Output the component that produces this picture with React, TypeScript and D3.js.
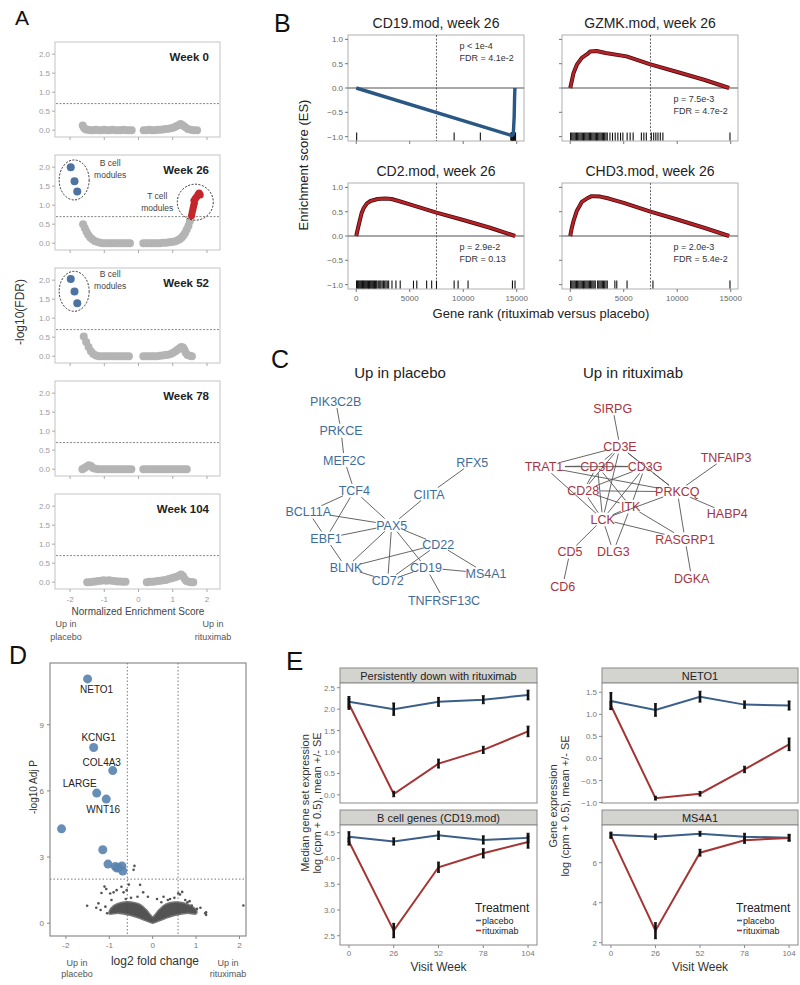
import React from "react";
import * as d3 from "d3";

const FONT = "'Liberation Sans', Arial, Helvetica, sans-serif";

// ================= Panel A data =================
const A_WEEKS = ["Week 0", "Week 26", "Week 52", "Week 78", "Week 104"];
const A_FDR_CUTOFF = 0.2;
const A_Y_TICKS = [0, 0.5, 1, 1.5, 2];
const A_X_TICKS = [-2, -1, 0, 1, 2];

const A_GRAY_W0 = [
  [-1.63, 0.12], [-1.59, 0.06], [-1.54, 0.02], [-1.47, 0.01], [-1.4, 0], [-1.32, 0], [-1.24, 0.01], [-1.16, 0], [-1.08, 0], [-1.0, 0.01],
  [-0.92, 0], [-0.84, 0], [-0.76, 0.01], [-0.68, 0], [-0.6, 0], [-0.52, 0], [-0.44, 0.01], [-0.36, 0], [-0.28, 0], [-0.2, 0],
  [0.15, 0], [0.23, 0], [0.31, 0.01], [0.39, 0], [0.47, 0], [0.55, 0.01], [0.63, 0.01], [0.71, 0.02], [0.79, 0.03], [0.87, 0.04],
  [0.95, 0.05], [1.03, 0.07], [1.1, 0.1], [1.17, 0.13], [1.23, 0.16], [1.29, 0.13], [1.36, 0.08], [1.44, 0.03], [1.53, 0.01], [1.62, 0], [1.71, 0],
];
const A_GRAY_W26 = [
  [-1.62, 0.5], [-1.57, 0.4], [-1.52, 0.3], [-1.47, 0.22], [-1.41, 0.15], [-1.35, 0.1], [-1.28, 0.06], [-1.2, 0.03], [-1.12, 0.01], [-1.04, 0],
  [-0.96, 0], [-0.88, 0], [-0.8, 0], [-0.72, 0], [-0.64, 0], [-0.56, 0], [-0.48, 0], [-0.4, 0], [-0.32, 0], [-0.25, 0],
  [0.14, 0], [0.22, 0], [0.3, 0], [0.38, 0], [0.46, 0], [0.54, 0], [0.62, 0], [0.7, 0.01], [0.78, 0.01], [0.86, 0.02],
  [0.94, 0.03], [1.02, 0.04], [1.1, 0.06], [1.16, 0.08], [1.21, 0.11], [1.26, 0.15], [1.31, 0.2], [1.36, 0.27], [1.41, 0.36], [1.46, 0.46], [1.5, 0.58],
];
const A_BLUE_W26 = [[-1.98, 2.0], [-1.87, 1.63], [-1.79, 1.36]];
const A_RED_W26 = [
  [1.55, 0.73], [1.57, 0.82], [1.59, 0.9], [1.61, 0.98], [1.63, 1.05], [1.62, 1.12], [1.66, 1.17], [1.7, 1.22], [1.74, 1.28], [1.77, 1.32], [1.8, 1.27],
];
const A_GRAY_W52 = [
  [-1.6, 0.52], [-1.53, 0.37], [-1.46, 0.24], [-1.39, 0.13], [-1.32, 0.06], [-1.24, 0.02], [-1.16, 0], [-1.08, 0], [-1.0, 0], [-0.92, 0],
  [-0.84, 0], [-0.76, 0], [-0.68, 0], [-0.6, 0], [-0.52, 0], [-0.44, 0], [-0.36, 0], [-0.28, 0],
  [0.14, 0], [0.22, 0], [0.3, 0], [0.38, 0], [0.46, 0], [0.54, 0], [0.62, 0.01], [0.7, 0.02], [0.78, 0.03], [0.86, 0.04],
  [0.94, 0.06], [1.01, 0.09], [1.08, 0.13], [1.14, 0.17], [1.2, 0.21], [1.25, 0.24], [1.3, 0.23], [1.34, 0.17], [1.38, 0.09], [1.43, 0.03], [1.5, 0.01], [1.56, 0],
];
const A_BLUE_W52 = [[-1.98, 2.03], [-1.87, 1.7], [-1.79, 1.39]];
const A_GRAY_W78 = [
  [-1.64, 0], [-1.58, 0.03], [-1.51, 0.07], [-1.45, 0.1], [-1.39, 0.08], [-1.33, 0.03], [-1.26, 0.01], [-1.18, 0], [-1.1, 0], [-1.02, 0],
  [-0.94, 0], [-0.86, 0], [-0.78, 0], [-0.7, 0], [-0.62, 0], [-0.54, 0], [-0.46, 0], [-0.38, 0], [-0.3, 0], [-0.21, 0],
  [0.14, 0], [0.22, 0], [0.3, 0], [0.38, 0], [0.46, 0], [0.54, 0], [0.62, 0], [0.7, 0], [0.78, 0], [0.86, 0],
  [0.94, 0], [1.02, 0], [1.1, 0], [1.18, 0], [1.26, 0], [1.34, 0], [1.41, 0],
];
const A_GRAY_W104 = [
  [-1.5, 0], [-1.42, 0], [-1.34, 0.01], [-1.26, 0.02], [-1.18, 0.03], [-1.1, 0.04], [-1.02, 0.05], [-0.94, 0.04], [-0.86, 0.05], [-0.78, 0.04],
  [-0.7, 0.03], [-0.62, 0.02], [-0.54, 0.02], [-0.46, 0.01], [-0.38, 0.01],
  [0.24, 0], [0.32, 0.01], [0.4, 0.01], [0.48, 0.02], [0.56, 0.03], [0.64, 0.04], [0.72, 0.05], [0.8, 0.06], [0.88, 0.08], [0.96, 0.1],
  [1.04, 0.12], [1.11, 0.14], [1.18, 0.17], [1.24, 0.2], [1.3, 0.16], [1.35, 0.08], [1.4, 0.03], [1.47, 0.01], [1.54, 0], [1.6, 0],
];
const A_GRAY = [A_GRAY_W0, A_GRAY_W26, A_GRAY_W52, A_GRAY_W78, A_GRAY_W104];
const A_BLUE = [[], A_BLUE_W26, A_BLUE_W52, [], []];
const A_RED = [[], A_RED_W26, [], [], []];

// ================= Panel B data =================
const B_TITLES = ["CD19.mod, week 26", "GZMK.mod, week 26", "CD2.mod, week 26", "CHD3.mod, week 26"];
const B_P = ["p < 1e-4", "p = 7.5e-3", "p = 2.9e-2", "p = 2.0e-3"];
const B_FDR = ["FDR = 4.1e-2", "FDR = 4.7e-2", "FDR = 0.13", "FDR = 5.4e-2"];
const B_MIDRANK = 7500;
const B_Y_TICKS = [-1, -0.5, 0, 0.5, 1];
const B_Y_TICK_LABELS = ["\u22121.0", "\u22120.5", "0.0", "0.5", "1.0"];
const B_X_TICKS = [0, 5000, 10000, 15000];
const B_ES_CD19 = [[0, 0], [14550, -0.98], [14680, -0.95], [14760, -0.6], [14800, -0.2], [14830, 0]];
const B_ES_GZMK = [[0, 0], [150, 0.15], [310, 0.31], [620, 0.48], [1080, 0.62], [1550, 0.69], [1860, 0.75], [2470, 0.76], [3300, 0.72], [5260, 0.65], [7420, 0.49], [10000, 0.33], [12500, 0.17], [14850, 0]];
const B_ES_CD2 = [[0, 0], [150, 0.15], [320, 0.31], [500, 0.47], [710, 0.58], [1000, 0.67], [1330, 0.72], [2000, 0.76], [2720, 0.77], [3300, 0.76], [3960, 0.72], [5000, 0.65], [7500, 0.48], [10000, 0.33], [12500, 0.17], [14850, 0]];
const B_ES_CHD3 = [[0, 0], [150, 0.17], [310, 0.31], [620, 0.52], [1080, 0.7], [1550, 0.77], [2000, 0.82], [2800, 0.81], [3600, 0.77], [5000, 0.68], [7500, 0.5], [10000, 0.34], [12500, 0.17], [14850, 0]];
const B_RUG_CD19 = [40, 9150, 11600, 14450, 14490, 14530, 14570, 14610, 14650, 14690, 14730, 14770, 14810, 14850, 14890];
const B_RUG_GZMK = [
  30, 140, 250, 360, 470, 580, 690, 800, 910, 1020, 1130, 1240, 1350, 1460, 1570, 1680, 1790, 1900, 2010, 2120, 2230, 2340, 2450, 2560, 2670,
  2780, 2890, 3000, 3110, 3220, 3340, 3460, 3710, 3950, 4200, 4450, 4700, 4920, 5320, 5600, 5880, 6650, 6880, 7110, 7580, 7800, 8000, 8200, 8420, 8660, 14930,
];
const B_RUG_CD2 = [
  30, 110, 190, 270, 350, 430, 510, 590, 670, 750, 830, 910, 990, 1070, 1150, 1230, 1310, 1390, 1470, 1550, 1630, 1710, 1790, 1870, 1950,
  2100, 2200, 2300, 2420, 2540, 2660, 2780, 2900, 3030, 3340, 3710, 4110, 5350, 5660, 6580, 7050, 7500, 9150, 9520, 10450, 14600, 14840,
];
const B_RUG_CHD3 = [
  30, 140, 250, 360, 470, 580, 690, 800, 910, 1020, 1130, 1240, 1350, 1460, 1570, 1680, 1790, 1900, 2010, 2120, 2230, 2340, 2560, 2670,
  2780, 2890, 3000, 3110, 3220, 3340, 3460, 4170, 4350, 5310, 7730, 14930,
];
const B_CURVES = [B_ES_CD19, B_ES_GZMK, B_ES_CD2, B_ES_CHD3];
const B_RUGS = [B_RUG_CD19, B_RUG_GZMK, B_RUG_CD2, B_RUG_CHD3];
const B_DIRECTION = ["placebo", "rituximab", "rituximab", "rituximab"];

// ================= Panel C data =================
const C_PLACEBO_GENES = ["PIK3C2B", "PRKCE", "MEF2C", "RFX5", "TCF4", "CIITA", "BCL11A", "PAX5", "EBF1", "CD22", "BLNK", "CD19", "MS4A1", "CD72", "TNFRSF13C"];
const C_PLACEBO_EDGES = [
  ["PIK3C2B", "PRKCE"], ["PRKCE", "MEF2C"], ["MEF2C", "TCF4"], ["RFX5", "CIITA"], ["CIITA", "PAX5"], ["TCF4", "PAX5"], ["TCF4", "BCL11A"],
  ["TCF4", "EBF1"], ["BCL11A", "PAX5"], ["BCL11A", "EBF1"], ["EBF1", "PAX5"], ["EBF1", "BLNK"], ["PAX5", "BLNK"], ["PAX5", "CD72"],
  ["PAX5", "CD19"], ["PAX5", "CD22"], ["BLNK", "CD22"], ["CD72", "CD22"], ["CD22", "MS4A1"], ["CD19", "MS4A1"], ["CD19", "TNFRSF13C"],
  ["CD19", "CD72"], ["BLNK", "CD72"],
];
const C_RITUX_GENES = ["SIRPG", "CD3E", "TNFAIP3", "TRAT1", "CD3D", "CD3G", "CD28", "PRKCQ", "ITK", "HABP4", "LCK", "RASGRP1", "CD5", "DLG3", "DGKA", "CD6"];
const C_RITUX_EDGES = [
  ["SIRPG", "CD3E"], ["CD3E", "TRAT1"], ["CD3E", "CD3D"], ["CD3E", "CD3G"], ["CD3E", "PRKCQ"], ["CD3E", "LCK"], ["CD3E", "CD28"],
  ["TRAT1", "CD3D"], ["TRAT1", "CD3G"], ["TRAT1", "LCK"], ["TRAT1", "PRKCQ"], ["CD3D", "CD3G"], ["CD3D", "LCK"], ["CD3D", "CD28"],
  ["CD3D", "ITK"], ["CD3G", "LCK"], ["CD3G", "CD28"], ["CD3G", "PRKCQ"], ["CD3G", "ITK"], ["CD28", "PRKCQ"], ["CD28", "LCK"],
  ["CD28", "ITK"], ["PRKCQ", "LCK"], ["PRKCQ", "TNFAIP3"], ["PRKCQ", "HABP4"], ["PRKCQ", "RASGRP1"], ["ITK", "LCK"], ["ITK", "RASGRP1"],
  ["ITK", "DLG3"], ["LCK", "DLG3"], ["LCK", "CD5"], ["LCK", "RASGRP1"], ["CD5", "CD6"], ["RASGRP1", "DGKA"],
];

// ================= Panel D data =================
const D_FC_CUTOFF = 1.5;
const D_P_CUTOFF = 0.01;
const D_Y_TICKS = [0, 3, 6, 9];
const D_X_TICKS = [-2, -1, 0, 1, 2];
const D_SIG_FC = [-1.5, -1.36, -0.92, -1.29, -1.07, -2.1, -1.15, -1.03, -0.86, -0.79, -0.71, -0.69, -0.82];
const D_SIG_P = [11.08, 7.97, 6.92, 5.9, 5.63, 4.28, 3.33, 2.68, 2.57, 2.52, 2.6, 2.37, 2.5];
const D_LABELS = ["NETO1", "KCNG1", "COL4A3", "LARGE", "WNT16"];
const D_BULK_OUTLINE = [
  [-1.0, 0.55], [-0.9, 0.8], [-0.7, 0.95], [-0.5, 0.96], [-0.3, 0.86], [-0.15, 0.62], [-0.05, 0.38], [0, 0.28], [0.05, 0.38], [0.15, 0.62],
  [0.3, 0.86], [0.5, 0.96], [0.7, 0.93], [0.9, 0.78], [1.02, 0.55], [1.0, 0.42], [0.8, 0.45], [0.5, 0.35], [0.3, 0.22], [0.12, 0.08],
  [0, 0], [-0.12, 0.08], [-0.3, 0.22], [-0.5, 0.35], [-0.8, 0.45], [-1.0, 0.42],
];
const D_NS_FC = [
  -1.11, -1.07, -1.18, -0.98, -0.9, -0.83, -0.72, -0.67, -0.6, -0.55, -0.44, -0.42, -0.29, -0.22, -0.11, 0.1, 0.25, 0.4, 0.5, 0.59,
  0.63, 0.68, 1.02, 0.8, 0.9, 0.94, 1.23, 1.23, 1.21, -1.51, -1.25, -1.2, -1.05, -1.09, 2.09, -0.95, -0.62, 0.35, 0.75, -0.35,
  1.1, -1.3, 0.2, -0.5, 0.85,
];
const D_NS_P = [
  1.66, 1.55, 1.37, 1.35, 1.4, 1.5, 1.65, 1.4, 1.5, 1.75, 2.42, 2.6, 1.74, 1.4, 1.2, 1.1, 1.2, 1.1, 1.15, 1.36,
  1.3, 1.42, 0.65, 0.95, 0.8, 0.6, 0.5, 0.38, 0.45, 0.79, 0.9, 0.6, 0.45, 0.75, 0.8, 1.05, 1.1, 1.05, 1.05, 1.2,
  0.7, 0.7, 0.95, 1.15, 1.0,
];

// ================= Panel E data =================
const E_WEEKS = [0, 26, 52, 78, 104];
const E_TITLES = ["Persistently down with rituximab", "B cell genes (CD19.mod)", "NETO1", "MS4A1"];
const E_PLACEBO = [
  [2.17, 2.0, 2.17, 2.22, 2.33],
  [4.42, 4.33, 4.45, 4.36, 4.4],
  [1.3, 1.1, 1.4, 1.22, 1.2],
  [7.4, 7.3, 7.45, 7.3, 7.25],
];
const E_PLACEBO_SE = [
  [0.1, 0.12, 0.08, 0.07, 0.09],
  [0.08, 0.05, 0.06, 0.06, 0.07],
  [0.17, 0.12, 0.1, 0.06, 0.08],
  [0.08, 0.08, 0.07, 0.12, 0.12],
];
const E_RITUX = [
  [2.12, 0.02, 0.73, 1.05, 1.48],
  [4.33, 2.6, 3.83, 4.1, 4.32],
  [1.2, -0.9, -0.8, -0.25, 0.32],
  [7.35, 2.6, 6.5, 7.12, 7.24],
];
const E_RITUX_SE = [
  [0.1, 0.04, 0.08, 0.06, 0.1],
  [0.05, 0.12, 0.08, 0.07, 0.1],
  [0.06, 0.02, 0.03, 0.05, 0.12],
  [0.08, 0.35, 0.12, 0.1, 0.1],
];
const E_Y_TICKS = [
  [0, 0.5, 1, 1.5, 2, 2.5],
  [2.5, 3, 3.5, 4, 4.5],
  [-1, -0.5, 0, 0.5, 1, 1.5],
  [2, 4, 6],
];
const E_Y_DOMAINS = [
  [-0.19, 2.61],
  [2.32, 4.65],
  [-1.01, 1.71],
  [1.885, 7.885],
];
const E_GROUPS = ["placebo", "rituximab"];

// ================= colours =================
const GRAY_PT = "#b4b4b4";
const BLUE_PT = "#4e73a0";
const RED_PT = "#c3262b";
const BLUE_LINE = "#2a5784";
const RED_LINE = "#b8232a";
const C_BLUE = "#3f6d99";
const C_RED = "#a6343f";
const E_BLUE = "#3b5f88";
const E_RED = "#a53434";

// ============================================================
function PanelA() {
  const x = d3.scaleLinear().domain([-2.44, 2.38]).range([55, 220]);
  const thr = -Math.log10(A_FDR_CUTOFF);
  const fmt = d3.format(".1f");
  return (
    <g>
      <text x={15} y={25} fontSize={21} fill="#111">A</text>
      {A_WEEKS.map((wk, i) => {
        const top = 42 + i * 113;
        const bottom = top + 95;
        const y = d3.scaleLinear().domain([-0.18, 2.32]).range([bottom, top]);
        const blue = A_BLUE[i];
        const red = A_RED[i];
        const bx = blue.length ? x(d3.mean(blue, (d) => d[0])) : 0;
        const by = blue.length ? y(d3.mean(blue, (d) => d[1])) : 0;
        const rx = red.length ? x(d3.mean(red, (d) => d[0])) : 0;
        const ry = red.length ? y(d3.mean(red, (d) => d[1])) : 0;
        return (
          <g key={wk}>
            <rect x={55} y={top} width={165} height={95} fill="#fff" stroke="#c4c4c4" strokeWidth={1} />
            {A_Y_TICKS.map((t) => (
              <g key={t}>
                <line x1={52} x2={55} y1={y(t)} y2={y(t)} stroke="#aaa" />
                <text x={50} y={y(t) + 3} textAnchor="end" fontSize={8} fill="#9a9a9a">{fmt(t)}</text>
              </g>
            ))}
            {A_X_TICKS.map((t) => (
              <line key={t} x1={x(t)} x2={x(t)} y1={bottom} y2={bottom + 3} stroke="#aaa" />
            ))}
            <line x1={56} x2={219} y1={y(thr)} y2={y(thr)} stroke="#666" strokeDasharray="2,1.5" strokeWidth={0.8} />
            {A_GRAY[i].map((d, j) => (
              <circle key={j} cx={x(d[0])} cy={y(d[1])} r={4} fill={GRAY_PT} />
            ))}
            {blue.map((d, j) => (
              <circle key={"b" + j} cx={x(d[0])} cy={y(d[1])} r={4} fill={BLUE_PT} />
            ))}
            {red.map((d, j) => (
              <circle key={"r" + j} cx={x(d[0])} cy={y(d[1])} r={3.6} fill={RED_PT} />
            ))}
            {blue.length > 0 && (
              <g>
                <ellipse cx={bx} cy={by} rx={15} ry={20} fill="none" stroke="#333" strokeDasharray="2,1.5" strokeWidth={1} />
                <text x={bx + 36} y={by - 14} fontSize={8.5} fill="#444" textAnchor="middle">B cell</text>
                <text x={bx + 36} y={by - 2} fontSize={8.5} fill="#444" textAnchor="middle">modules</text>
              </g>
            )}
            {red.length > 0 && (
              <g>
                <ellipse cx={rx} cy={ry} rx={18} ry={18} fill="none" stroke="#333" strokeDasharray="2,1.5" strokeWidth={1} />
                <text x={rx - 38} y={ry - 3} fontSize={8.5} fill="#444" textAnchor="middle">T cell</text>
                <text x={rx - 38} y={ry + 9} fontSize={8.5} fill="#444" textAnchor="middle">modules</text>
              </g>
            )}
            <text x={209} y={top + 19} textAnchor="end" fontSize={11.5} fontWeight="bold" fill="#222">{wk}</text>
            {i === A_WEEKS.length - 1 &&
              A_X_TICKS.map((t) => (
                <text key={"l" + t} x={x(t)} y={bottom + 13} textAnchor="middle" fontSize={8} fill="#9a9a9a">{t}</text>
              ))}
          </g>
        );
      })}
      <text x={138} y={615} textAnchor="middle" fontSize={10} fill="#444">Normalized Enrichment Score</text>
      <text x={66} y={627} textAnchor="middle" fontSize={9} fill="#555">Up in</text>
      <text x={66} y={640} textAnchor="middle" fontSize={9} fill="#555">placebo</text>
      <text x={213} y={627} textAnchor="middle" fontSize={9} fill="#555">Up in</text>
      <text x={213} y={640} textAnchor="middle" fontSize={9} fill="#555">rituximab</text>
      <text transform="translate(24,312) rotate(-90)" textAnchor="middle" fontSize={12} fill="#333">-log10(FDR)</text>
    </g>
  );
}

// ============================================================
function PanelB() {
  const X0 = [348, 562, 348, 562];
  const Y0 = [35, 35, 183, 183];
  const W = 176;
  const H = 106;
  return (
    <g>
      <text x={274} y={32} fontSize={25} fill="#111">B</text>
      {B_TITLES.map((title, i) => {
        const x = d3.scaleLinear().domain([-770, 15680]).range([X0[i], X0[i] + W]);
        const y = d3.scaleLinear().domain([-1.09, 1.09]).range([Y0[i] + H, Y0[i]]);
        const line = d3.line().x((d) => x(d[0])).y((d) => y(d[1]));
        const blue = B_DIRECTION[i] === "placebo";
        const leftCol = i % 2 === 0;
        const bottomRow = i >= 2;
        const tY1 = blue ? y(0.86) : y(-0.22);
        return (
          <g key={title}>
            <text x={X0[i] + W / 2} y={Y0[i] - 7} textAnchor="middle" fontSize={14} fill="#222">{title}</text>
            <rect x={X0[i]} y={Y0[i]} width={W} height={H} fill="#fff" stroke="#b0b0b0" />
            {B_Y_TICKS.map((t, k) => (
              <g key={t}>
                <line x1={X0[i] - 3} x2={X0[i]} y1={y(t)} y2={y(t)} stroke="#777" />
                {leftCol && (
                  <text x={X0[i] - 5} y={y(t) + 3} textAnchor="end" fontSize={8} fill="#666">{B_Y_TICK_LABELS[k]}</text>
                )}
              </g>
            ))}
            {B_X_TICKS.map((t) => (
              <g key={t}>
                <line x1={x(t)} x2={x(t)} y1={Y0[i] + H} y2={Y0[i] + H + 3} stroke="#777" />
                {bottomRow && (
                  <text x={x(t)} y={Y0[i] + H + 12} textAnchor="middle" fontSize={8} fill="#666">{t}</text>
                )}
              </g>
            ))}
            <line x1={X0[i]} x2={X0[i] + W} y1={y(0)} y2={y(0)} stroke="#8a8a8a" strokeWidth={1.3} />
            <line x1={x(B_MIDRANK)} x2={x(B_MIDRANK)} y1={Y0[i]} y2={Y0[i] + H} stroke="#555" strokeDasharray="2,1.5" strokeWidth={0.9} />
            {B_RUGS[i].map((r, k) => (
              <line key={k} x1={x(r)} x2={x(r)} y1={y(-1) - 4} y2={y(-1) + 4} stroke="#111" strokeWidth={1.1} />
            ))}
            {blue ? (
              <path d={line(B_CURVES[i])} fill="none" stroke={BLUE_LINE} strokeWidth={3.4} strokeLinejoin="round" />
            ) : (
              <g>
                <path d={line(B_CURVES[i])} fill="none" stroke="#4a0d0d" strokeWidth={4} strokeLinejoin="round" />
                <path d={line(B_CURVES[i])} fill="none" stroke={RED_LINE} strokeWidth={2.4} strokeLinejoin="round" />
              </g>
            )}
            <text x={x(9650)} y={tY1 + 3} fontSize={9} fill="#333">{B_P[i]}</text>
            <text x={x(9650)} y={tY1 + 15} fontSize={9} fill="#333">{B_FDR[i]}</text>
          </g>
        );
      })}
      <text transform="translate(308,165) rotate(-90)" textAnchor="middle" fontSize={13} fill="#222">Enrichment score (ES)</text>
      <text x={541} y={318} textAnchor="middle" fontSize={13} fill="#222">Gene rank (rituximab versus placebo)</text>
    </g>
  );
}

// ============================================================
const C_LAYOUT = {
  PIK3C2B: [335.7, 401], PRKCE: [341, 430.7], MEF2C: [344.3, 460], RFX5: [472.3, 462.7], TCF4: [354.3, 490.7],
  CIITA: [429, 494], BCL11A: [308.3, 511.7], PAX5: [391.7, 525], EBF1: [326, 538.3], CD22: [438.3, 544.3],
  BLNK: [346, 567.7], CD19: [426, 567.7], MS4A1: [486, 573.3], CD72: [387.7, 580.7], TNFRSF13C: [444, 600],
  SIRPG: [612.7, 408.3], CD3E: [620, 446.7], TNFAIP3: [726, 457.3], TRAT1: [544, 466.7], CD3D: [597.3, 466],
  CD3G: [645, 466.7], CD28: [583.3, 490.7], PRKCQ: [677.3, 491.7], ITK: [630.7, 506.7], HABP4: [727.3, 513.3],
  LCK: [602.7, 519.3], RASGRP1: [685, 539.3], CD5: [570, 551.7], DLG3: [613.3, 551.7], DGKA: [691.7, 578.3], CD6: [562.7, 586],
};

function Network({ genes, edges, color, fs }) {
  const halfW = (g) => (g.length * fs * 0.64) / 2 + 1;
  const segs = edges.map(([a, b]) => {
    const [x1, y1] = C_LAYOUT[a];
    const [x2, y2] = C_LAYOUT[b];
    const dx = x2 - x1, dy = y2 - y1;
    const ta = 1 / Math.sqrt((dx / halfW(a)) ** 2 + (dy / 7) ** 2);
    const tb = 1 / Math.sqrt((dx / halfW(b)) ** 2 + (dy / 7) ** 2);
    if (ta + tb >= 0.98) return null;
    return [x1 + dx * ta, y1 + dy * ta, x2 - dx * tb, y2 - dy * tb];
  });
  return (
    <g>
      {segs.map((s, i) =>
        s ? <line key={i} x1={s[0]} y1={s[1]} x2={s[2]} y2={s[3]} stroke="#555" strokeWidth={0.9} /> : null
      )}
      {genes.map((g) => (
        <text key={g} x={C_LAYOUT[g][0]} y={C_LAYOUT[g][1] + fs * 0.36} textAnchor="middle" fontSize={fs} fill={color}>{g}</text>
      ))}
    </g>
  );
}

function PanelC() {
  return (
    <g>
      <text x={271} y={368} fontSize={25} fill="#111">C</text>
      <text x={400} y={378} textAnchor="middle" fontSize={15} fill="#222">Up in placebo</text>
      <text x={633} y={378} textAnchor="middle" fontSize={15} fill="#222">Up in rituximab</text>
      <Network genes={C_PLACEBO_GENES} edges={C_PLACEBO_EDGES} color={C_BLUE} fs={12.5} />
      <Network genes={C_RITUX_GENES} edges={C_RITUX_EDGES} color={C_RED} fs={12.5} />
    </g>
  );
}

// ============================================================
function PanelD() {
  const L = 50, R = 246, T = 663, B = 936;
  const x = d3.scaleLinear().domain([-2.366, 2.15]).range([L, R]);
  const y = d3.scaleLinear().domain([-0.58, 11.8]).range([B, T]);
  const fcLine = Math.log2(D_FC_CUTOFF);
  const pLine = -Math.log10(D_P_CUTOFF);
  const area = d3.line().x((d) => x(d[0])).y((d) => y(d[1])).curve(d3.curveCatmullRomClosed);
  const labelOffsets = [[9, 14], [5, -6], [-11, -5], [-17, -6], [-3, 14]];
  return (
    <g>
      <text x={9} y={664} fontSize={25} fill="#111">D</text>
      <rect x={L} y={T} width={R - L} height={B - T} fill="#fff" stroke="#8c8c8c" strokeWidth={1.2} />
      {D_Y_TICKS.map((t) => (
        <g key={t}>
          <line x1={L - 3} x2={L} y1={y(t)} y2={y(t)} stroke="#888" />
          <text x={44} y={y(t) + 3} textAnchor="end" fontSize={8} fill="#777">{t}</text>
        </g>
      ))}
      {D_X_TICKS.map((t) => (
        <g key={t}>
          <line x1={x(t)} x2={x(t)} y1={B} y2={B + 3} stroke="#888" />
          <text x={x(t)} y={948} textAnchor="middle" fontSize={8} fill="#777">{t}</text>
        </g>
      ))}
      <line x1={x(-fcLine)} x2={x(-fcLine)} y1={T} y2={B} stroke="#777" strokeDasharray="1.5,2" strokeWidth={1} />
      <line x1={x(fcLine)} x2={x(fcLine)} y1={T} y2={B} stroke="#777" strokeDasharray="1.5,2" strokeWidth={1} />
      <line x1={L} x2={R} y1={y(pLine)} y2={y(pLine)} stroke="#777" strokeDasharray="1.5,2" strokeWidth={1} />
      <path d={area(D_BULK_OUTLINE)} fill="#454545" stroke="#6a6a6a" strokeWidth={1.4} opacity={0.92} />
      {D_NS_FC.map((f, i) => (
        <circle key={i} cx={x(f)} cy={y(D_NS_P[i])} r={1.3} fill="#555" />
      ))}
      {D_SIG_FC.map((f, i) => (
        <circle key={"s" + i} cx={x(f)} cy={y(D_SIG_P[i])} r={4.5} fill="#5a84b0" opacity={0.92} />
      ))}
      {D_LABELS.map((lab, i) => (
        <text key={lab} x={x(D_SIG_FC[i]) + labelOffsets[i][0]} y={y(D_SIG_P[i]) + labelOffsets[i][1]} textAnchor="middle" fontSize={10} fill="#222">{lab}</text>
      ))}
      <text transform="translate(37,787) rotate(-90)" textAnchor="middle" fontSize={10} fill="#333">-log10 Adj P</text>
      <text x={155} y={965} textAnchor="middle" fontSize={12} fill="#333">log2 fold change</text>
      <text x={77} y={966} textAnchor="middle" fontSize={9} fill="#555">Up in</text>
      <text x={77} y={977} textAnchor="middle" fontSize={9} fill="#555">placebo</text>
      <text x={228} y={966} textAnchor="middle" fontSize={9} fill="#555">Up in</text>
      <text x={228} y={977} textAnchor="middle" fontSize={9} fill="#555">rituximab</text>
    </g>
  );
}

// ============================================================
function PanelE() {
  const XS = [[340, 537], [340, 537], [602, 798], [602, 798]];
  const STRIP = [668, 810, 668, 810];
  const fmts = [d3.format(".1f"), d3.format(".1f"), d3.format(".1f"), d3.format("d")];
  return (
    <g>
      <text x={286} y={670} fontSize={26} fill="#111">E</text>
      {E_TITLES.map((title, i) => {
        const [x0, x1] = XS[i];
        const st = STRIP[i];
        const top = st + 15;
        const bottom = st + 135;
        const x = d3.scaleLinear().domain([-5.2, 109.2]).range([x0, x1]);
        const y = d3.scaleLinear().domain(E_Y_DOMAINS[i]).range([bottom, top]);
        const line = d3.line().x((d) => x(d[0])).y((d) => y(d[1]));
        const series = [
          { vals: E_PLACEBO[i], se: E_PLACEBO_SE[i], color: E_BLUE },
          { vals: E_RITUX[i], se: E_RITUX_SE[i], color: E_RED },
        ];
        const isBottom = i % 2 === 1;
        return (
          <g key={title}>
            <rect x={x0} y={st} width={x1 - x0} height={15} fill="#d3d3d0" stroke="#8a8a8a" />
            <text x={(x0 + x1) / 2} y={st + 11.5} textAnchor="middle" fontSize={11} fill="#222">{title}</text>
            <rect x={x0} y={top} width={x1 - x0} height={bottom - top} fill="#fff" stroke="#8a8a8a" />
            {E_Y_TICKS[i].map((t) => (
              <g key={t}>
                <line x1={x0 - 3} x2={x0} y1={y(t)} y2={y(t)} stroke="#888" />
                <text x={x0 - 5} y={y(t) + 3} textAnchor="end" fontSize={8} fill="#777">{fmts[i](t)}</text>
              </g>
            ))}
            {isBottom &&
              E_WEEKS.map((w) => (
                <g key={w}>
                  <line x1={x(w)} x2={x(w)} y1={bottom} y2={bottom + 3} stroke="#888" />
                  <text x={x(w)} y={956} textAnchor="middle" fontSize={8} fill="#777">{w}</text>
                </g>
              ))}
            {series.map((s, k) => (
              <path key={k} d={line(E_WEEKS.map((w, j) => [w, s.vals[j]]))} fill="none" stroke={s.color} strokeWidth={2} />
            ))}
            {series.map((s, k) =>
              E_WEEKS.map((w, j) => (
                <g key={k + "-" + j}>
                  <line x1={x(w)} x2={x(w)} y1={y(s.vals[j] - s.se[j]) + 1} y2={y(s.vals[j] + s.se[j]) - 1} stroke="#111" strokeWidth={2.6} />
                  <line x1={x(w) - 1.5} x2={x(w) + 1.5} y1={y(s.vals[j] - s.se[j]) + 1} y2={y(s.vals[j] - s.se[j]) + 1} stroke="#111" strokeWidth={1} />
                  <line x1={x(w) - 1.5} x2={x(w) + 1.5} y1={y(s.vals[j] + s.se[j]) - 1} y2={y(s.vals[j] + s.se[j]) - 1} stroke="#111" strokeWidth={1} />
                </g>
              ))
            )}
            {isBottom && (
              <g>
                <text x={(x0 + x1) / 2} y={971} textAnchor="middle" fontSize={12} fill="#333">Visit Week</text>
                <text x={x1 - 62} y={912} fontSize={12} fill="#222">Treatment</text>
                {E_GROUPS.map((g, k) => (
                  <g key={g}>
                    <line x1={x1 - 61} x2={x1 - 56} y1={920.5 + k * 10} y2={920.5 + k * 10} stroke={k === 0 ? E_BLUE : E_RED} strokeWidth={1.6} />
                    <text x={x1 - 55} y={923.5 + k * 10} fontSize={9} fill="#222">{g}</text>
                  </g>
                ))}
              </g>
            )}
          </g>
        );
      })}
      <text transform="translate(309,803) rotate(-90)" textAnchor="middle" fontSize={11} fill="#333">Median gene set expression</text>
      <text transform="translate(321,803) rotate(-90)" textAnchor="middle" fontSize={11} fill="#333">log (cpm + 0.5), mean +/- SE</text>
      <text transform="translate(557,806) rotate(-90)" textAnchor="middle" fontSize={11} fill="#333">Gene expression</text>
      <text transform="translate(569,806) rotate(-90)" textAnchor="middle" fontSize={11} fill="#333">log (cpm + 0.5), mean +/- SE</text>
    </g>
  );
}

export default function App() {
  return (
    <svg
      width={800}
      height={985}
      viewBox="0 0 800 985"
      style={{ position: "absolute", left: 0, top: 0, background: "#fff" }}
      fontFamily={FONT}
    >
      <rect width={800} height={985} fill="#fff" />
      <PanelA />
      <PanelB />
      <PanelC />
      <PanelD />
      <PanelE />
    </svg>
  );
}
